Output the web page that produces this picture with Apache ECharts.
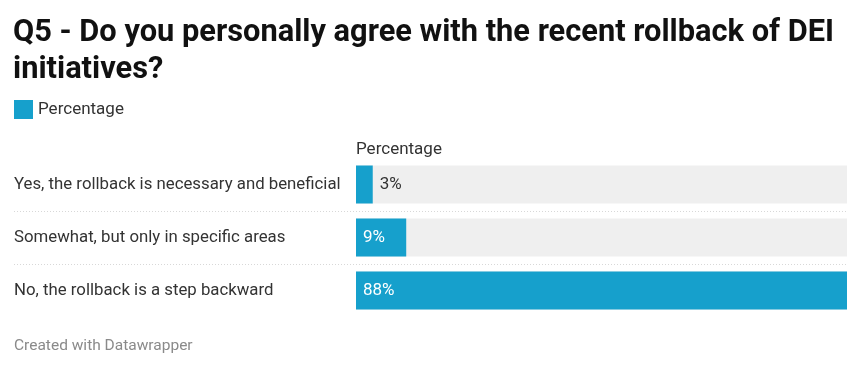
<!DOCTYPE html>
<html><head><meta charset="utf-8">
<script src="https://cdn.jsdelivr.net/npm/echarts@6/dist/echarts.min.js"></script>
<style>html,body{margin:0;padding:0;background:#fff}#c{width:868px;height:371px}</style>
</head><body><div id="c"></div>
<script>
const categories = [
  "Yes, the rollback is necessary and beneficial",
  "Somewhat, but only in specific areas",
  "No, the rollback is a step backward"
];
const percentages = [3, 9, 88];
const seriesName = "Percentage";

const chart = echarts.init(document.getElementById('c'));
const FONT = 'Roboto, "Noto Sans", sans-serif';
const data = percentages.map(v => ({
  value: v,
  label: v < 5
    ? { position: 'right', color: '#333', distance: 7 }
    : { position: 'insideLeft', color: '#fff', distance: 7 }
}));
chart.setOption({
  animation: false,
  textStyle: { fontFamily: FONT },
  title: {
    text: "Q5 - Do you personally agree with the recent rollback of DEI\ninitiatives?",
    left: 13, top: 15, padding: 0,
    textStyle: { fontFamily: FONT, fontSize: 30.8, fontWeight: 'bold', color: '#111', lineHeight: 37 }
  },
  legend: {
    left: 14, top: 100, padding: 0, icon: 'rect', itemWidth: 19, itemHeight: 19, itemGap: 5,
    textStyle: { fontFamily: FONT, fontSize: 17, color: '#333', padding: [0,0,0,0] },
    data: [seriesName]
  },
  grid: { left: 356, right: 21, top: 158, bottom: 54, containLabel: false },
  xAxis: { type: 'value', min: 0, max: 88, show: false },
  yAxis: {
    type: 'category', data: categories, inverse: true,
    axisLine: { show: false }, axisTick: { show: false }, splitLine: { show: false },
    axisLabel: { align: 'left', margin: 342, fontFamily: FONT, fontSize: 16.8, color: '#333' }
  },
  series: [{
    name: seriesName, type: 'bar', data: data, barWidth: 38,
    itemStyle: { color: '#16a0cc' },
    showBackground: true, backgroundStyle: { color: '#efefef' },
    label: { show: true, formatter: '{c}%', fontFamily: FONT, fontSize: 17 }
  }]
});

function drawExtras() {
  const g = [];
  const centers = categories.map((c, i) => chart.convertToPixel({ yAxisIndex: 0 }, i));
  for (let i = 0; i < centers.length - 1; i++) {
    const y = Math.round((centers[i] + centers[i + 1]) / 2) + 0.5;
    g.push({ type: 'line', shape: { x1: 14, y1: y, x2: 847, y2: y },
      style: { stroke: '#d8d8d8', lineWidth: 1, lineDash: [1, 2] } });
  }
  g.push({ type: 'text', x: 356, y: centers[0] - 35, style: { text: 'Percentage', fontFamily: FONT, fontSize: 17, fill: '#333', verticalAlign: 'middle' } });
  g.push({ type: 'text', x: 14, y: 346, style: { text: 'Created with Datawrapper', fontFamily: FONT, fontSize: 15.5, fill: '#8a8a8a', verticalAlign: 'middle' } });
  chart.setOption({ graphic: g });
}
drawExtras();
</script></body></html>
